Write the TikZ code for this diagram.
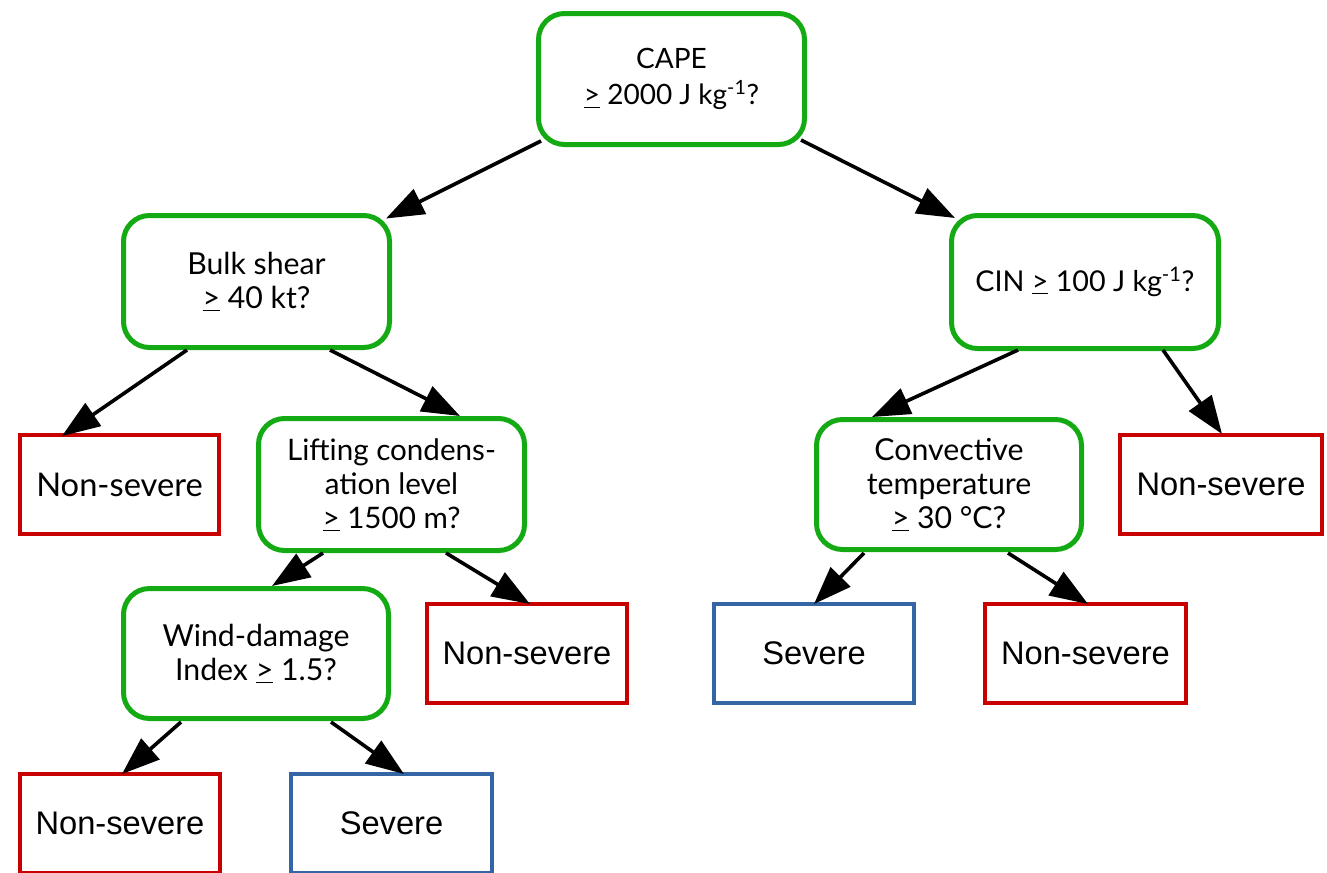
\documentclass[tikz,border=0pt]{standalone}
\usepackage{fontspec}
\setmainfont{Lato}
\newfontfamily\leaffont{Liberation Sans}
\usetikzlibrary{arrows.meta}
\definecolor{dgreen}{RGB}{20,170,20}
\definecolor{lred}{RGB}{200,0,0}
\definecolor{lblue}{RGB}{52,101,164}
\newdimen\px \px=0.75pt
\newcommand{\geu}{\underline{>}}
\begin{document}
\begin{tikzpicture}[x=0.75pt,y=-0.75pt,
  decision/.style={draw=dgreen,line width=5\px,rounded corners=26\px,fill=white,
    align=center,font=\fontsize{22.7pt}{25.5pt}\selectfont,inner sep=0pt},
  smalltext/.style={font=\fontsize{21pt}{27.5pt}\selectfont},
  leafred/.style={draw=lred,line width=4.5\px,fill=white,align=center,inner sep=0pt,
    font=\leaffont\fontsize{24.5pt}{28pt}\selectfont},
  leafblue/.style={leafred,draw=lblue},
  conn/.style={line width=2.7pt,-{Triangle[length=28.5pt,width=20.5pt]}}]
\useasboundingbox (0,0) rectangle (1327,872);
\node[decision,smalltext,minimum width=266\px,minimum height=131\px] (cape) at (671.5,79) {CAPE\\\geu{} 2000 J kg\textsuperscript{-1}?};
\node[decision,minimum width=266\px,minimum height=132\px] (bulk) at (256.5,281.5) {Bulk shear\\\geu{} 40 kt?};
\node[decision,font=\fontsize{21.5pt}{26pt}\selectfont,minimum width=267\px,minimum height=133\px] (cin) at (1085,282) {CIN \geu{} 100 J kg\textsuperscript{-1}?};
\node[leafred,minimum width=199\px,minimum height=99\px,font=\fontsize{24.5pt}{28pt}\selectfont] (ns1) at (119.5,484.5) {Non-severe};
\node[decision,font=\fontsize{22.2pt}{25.5pt}\selectfont,minimum width=266\px,minimum height=132\px] (lcl) at (391.5,484.5) {Lifting condens-\\ation level\\\geu{} 1500 m?};
\node[decision,minimum width=265\px,minimum height=130\px] (conv) at (949,484.5) {Convective\\temperature\\\geu{} 30 °C?};
\node[leafred,minimum width=202\px,minimum height=99\px] (ns2) at (1221,484.5) {Non-severe};
\node[decision,minimum width=265\px,minimum height=130\px] (wind) at (256,653.5) {Wind-damage\\Index \geu{} 1.5?};
\node[leafred,minimum width=200\px,minimum height=99\px] (ns3) at (527,653.5) {Non-severe};
\node[leafblue,minimum width=200\px,minimum height=99\px] (sev1) at (814,653.5) {Severe};
\node[leafred,minimum width=201\px,minimum height=99\px] (ns4) at (1085.5,653.5) {Non-severe};
\node[leafred,minimum width=200\px,minimum height=99\px] (ns5) at (120,823.5) {Non-severe};
\node[leafblue,minimum width=201\px,minimum height=99\px] (sev2) at (391.5,823.5) {Severe};
\draw[conn] ([shift={(-130.5,62)}]cape.center) -- ([shift={(129.5,-63)}]bulk.center);
\draw[conn] ([shift={(129.5,61)}]cape.center) -- ([shift={(-130,-64)}]cin.center);
\draw[conn] ([shift={(-69.5,68.5)}]bulk.center) -- ([shift={(-57.5,-48.5)}]ns1.center);
\draw[conn] ([shift={(73.5,68.5)}]bulk.center) -- ([shift={(68.5,-68.5)}]lcl.center);
\draw[conn] ([shift={(-67,68)}]cin.center) -- ([shift={(-77,-67.5)}]conv.center);
\draw[conn] ([shift={(78,68)}]cin.center) -- ([shift={(1,-50.5)}]ns2.center);
\draw[conn] ([shift={(-68.5,68.5)}]lcl.center) -- ([shift={(16,-67.5)}]wind.center);
\draw[conn] ([shift={(54.5,68.5)}]lcl.center) -- ([shift={(3,-49.5)}]ns3.center);
\draw[conn] ([shift={(-85,68.5)}]conv.center) -- ([shift={(0,-49.5)}]sev1.center);
\draw[conn] ([shift={(59,68.5)}]conv.center) -- ([shift={(2.5,-49.5)}]ns4.center);
\draw[conn] ([shift={(-75,68.5)}]wind.center) -- ([shift={(2,-49.5)}]ns5.center);
\draw[conn] ([shift={(75,68.5)}]wind.center) -- ([shift={(12.5,-49.5)}]sev2.center);
\end{tikzpicture}
\end{document}
